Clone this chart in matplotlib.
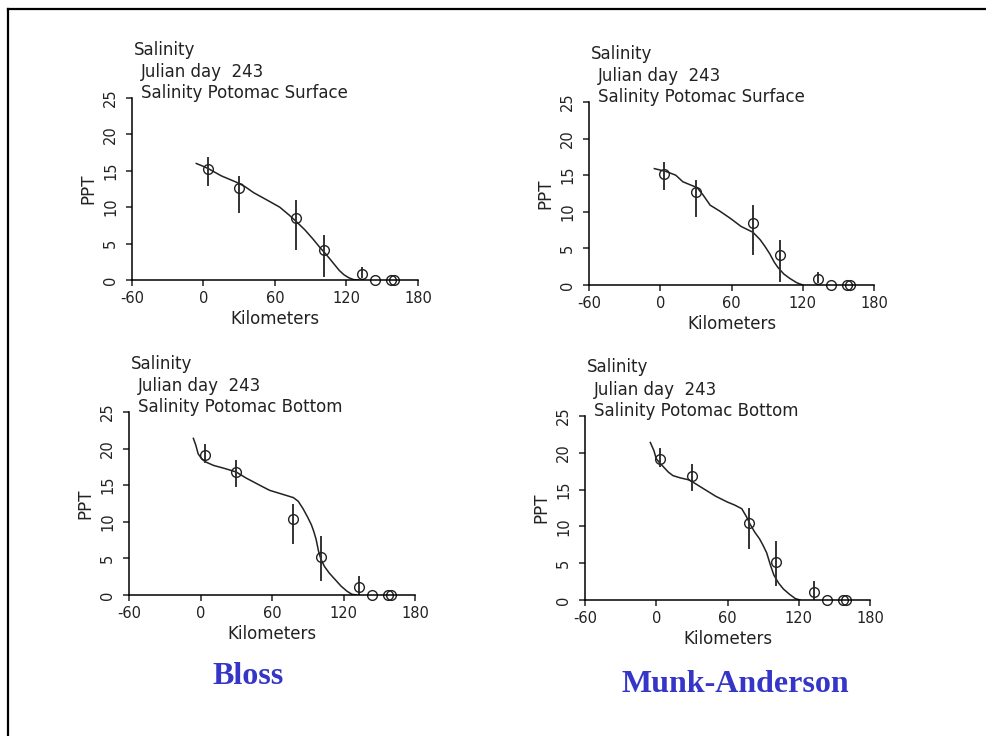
import matplotlib
matplotlib.use('Agg')
import matplotlib.pyplot as plt
from matplotlib.lines import Line2D

plt.rcParams['font.family'] = 'DejaVu Sans'
plt.rcParams['axes.unicode_minus'] = False

# observed stations (km) and salinity (ppt) with error bar ranges
obs_km = [3.5, 30, 78, 101, 133, 144, 157, 160]
surf_obs = [15.2, 12.7, 8.5, 4.1, 0.8, 0, 0, 0]
surf_lo = [13.1, 9.4, 4.3, 0.5, 0.4, 0, 0, 0]
surf_hi = [16.7, 14.2, 10.8, 6.0, 1.7, 0, 0, 0]
bot_obs = [19.1, 16.8, 10.4, 5.2, 1.1, 0, 0, 0]
bot_lo = [18.2, 14.9, 7.1, 2.0, 0.0, 0, 0, 0]
bot_hi = [20.5, 18.3, 12.3, 7.9, 2.4, 0, 0, 0]

# model curves
bloss_surf_km = [-6, 0, 4, 15, 28, 35, 42, 52, 64, 72, 78, 85, 92, 98, 103, 109, 114, 118, 122, 126, 130]
bloss_surf = [16.0, 15.6, 15.3, 14.3, 13.4, 12.8, 12.0, 11.1, 10.0, 8.9, 8.0, 6.9, 5.6, 4.4, 3.5, 2.3, 1.3, 0.7, 0.3, 0.05, 0]
munk_surf_km = [-5, 5, 13, 19, 25, 31, 36, 42, 50, 59, 68, 78, 84, 88, 92, 96, 99, 104, 109, 115, 120]
munk_surf = [15.9, 15.5, 15.0, 14.1, 13.7, 13.3, 12.3, 10.9, 10.1, 9.1, 8.0, 7.2, 6.2, 5.3, 4.3, 3.1, 2.4, 1.5, 0.9, 0.3, 0]
bloss_bot_km = [-6, -4, -2, 1, 4, 11, 20, 30, 38, 45, 52, 58, 66, 72, 78, 82, 86, 90, 93, 95, 97, 99, 101, 104, 108, 113, 118, 123, 127, 131]
bloss_bot = [21.4, 20.5, 19.3, 18.6, 18.2, 17.7, 17.3, 16.8, 16.0, 15.4, 14.8, 14.3, 13.9, 13.6, 13.3, 12.8, 11.8, 10.6, 9.6, 8.7, 7.6, 6.0, 4.9, 3.9, 3.0, 2.1, 1.2, 0.5, 0.1, 0]
munk_bot_km = [-5, -2, 0, 3, 6, 10, 14, 20, 28, 34, 40, 50, 60, 66, 72, 76, 79, 83, 87, 90, 93, 96, 99, 103, 107, 112, 117, 121]
munk_bot = [21.4, 20.3, 19.2, 18.6, 18.1, 17.4, 16.9, 16.6, 16.3, 15.7, 15.1, 14.1, 13.3, 12.9, 12.4, 11.3, 10.3, 9.2, 8.3, 7.4, 6.4, 4.8, 3.4, 2.3, 1.5, 0.8, 0.2, 0]

x_ticks = [-60, 0, 60, 120, 180]
y_ticks = [0, 5, 10, 15, 20, 25]

fig = plt.figure(figsize=(9.87, 7.36), dpi=100)


def panel(rect, model_km, model_ppt, obs, lo, hi, title):
    ax = fig.add_axes(rect)
    ax.plot(model_km, model_ppt, color='#222222', lw=1.1)
    for x, l, h in zip(obs_km, lo, hi):
        if h > l:
            ax.plot([x, x], [l, h], color='#333333', lw=1.4)
    ax.plot(obs_km, obs, 'o', ms=7, mfc='none', mec='#222222', mew=1.0, clip_on=False)
    ax.set_xlim(-60, 180)
    ax.set_ylim(0, 25)
    ax.set_xticks(x_ticks)
    ax.set_yticks(y_ticks)
    ax.spines['top'].set_visible(False)
    ax.spines['right'].set_visible(False)
    ax.spines['left'].set_linewidth(1.1)
    ax.spines['bottom'].set_linewidth(1.1)
    ax.tick_params(axis='both', direction='out', length=4, width=1.1,
                   labelsize=10.5, colors='#222222')
    ax.tick_params(axis='x', pad=4)
    ax.tick_params(axis='y', pad=6)
    for lab in ax.get_yticklabels():
        lab.set_rotation(90)
        lab.set_va('center')
    ax.set_xlabel('Kilometers', fontsize=12, color='#222222', labelpad=3)
    ax.set_ylabel('PPT', fontsize=12, color='#222222', labelpad=4)
    ax.text(0.007, 1.264, 'Salinity', transform=ax.transAxes, fontsize=12,
            va='center', ha='left', color='#222222')
    ax.text(0.031, 1.140, 'Julian day  243', transform=ax.transAxes, fontsize=12,
            va='center', ha='left', color='#222222')
    ax.text(0.031, 1.027, title, transform=ax.transAxes, fontsize=12,
            va='center', ha='left', color='#222222')
    return ax


panel([0.1337, 0.6196, 0.2898, 0.2473], bloss_surf_km, bloss_surf,
      surf_obs, surf_lo, surf_hi, 'Salinity Potomac Surface')
panel([0.5968, 0.6128, 0.2888, 0.2486], munk_surf_km, munk_surf,
      surf_obs, surf_lo, surf_hi, 'Salinity Potomac Surface')
panel([0.1307, 0.1916, 0.2898, 0.2486], bloss_bot_km, bloss_bot,
      bot_obs, bot_lo, bot_hi, 'Salinity Potomac Bottom')
panel([0.5927, 0.1848, 0.2888, 0.2500], munk_bot_km, munk_bot,
      bot_obs, bot_lo, bot_hi, 'Salinity Potomac Bottom')

fig.text(248 / 987, 1 - 676 / 736, 'Bloss', fontsize=23, fontweight='bold',
         family='Liberation Serif', color='#3535c8', ha='center', va='center')
fig.text(735 / 987, 1 - 685 / 736, 'Munk-Anderson', fontsize=23, fontweight='bold',
         family='Liberation Serif', color='#3535c8', ha='center', va='center')

# slide frame (top and left edges)
fig.add_artist(Line2D([8.5 / 987, 1.0], [1 - 8.5 / 736, 1 - 8.5 / 736],
                      transform=fig.transFigure, color='black', lw=1.6))
fig.add_artist(Line2D([8.5 / 987, 8.5 / 987], [0, 1 - 8.5 / 736],
                      transform=fig.transFigure, color='black', lw=1.6))

fig.savefig('out.png', dpi=100)
